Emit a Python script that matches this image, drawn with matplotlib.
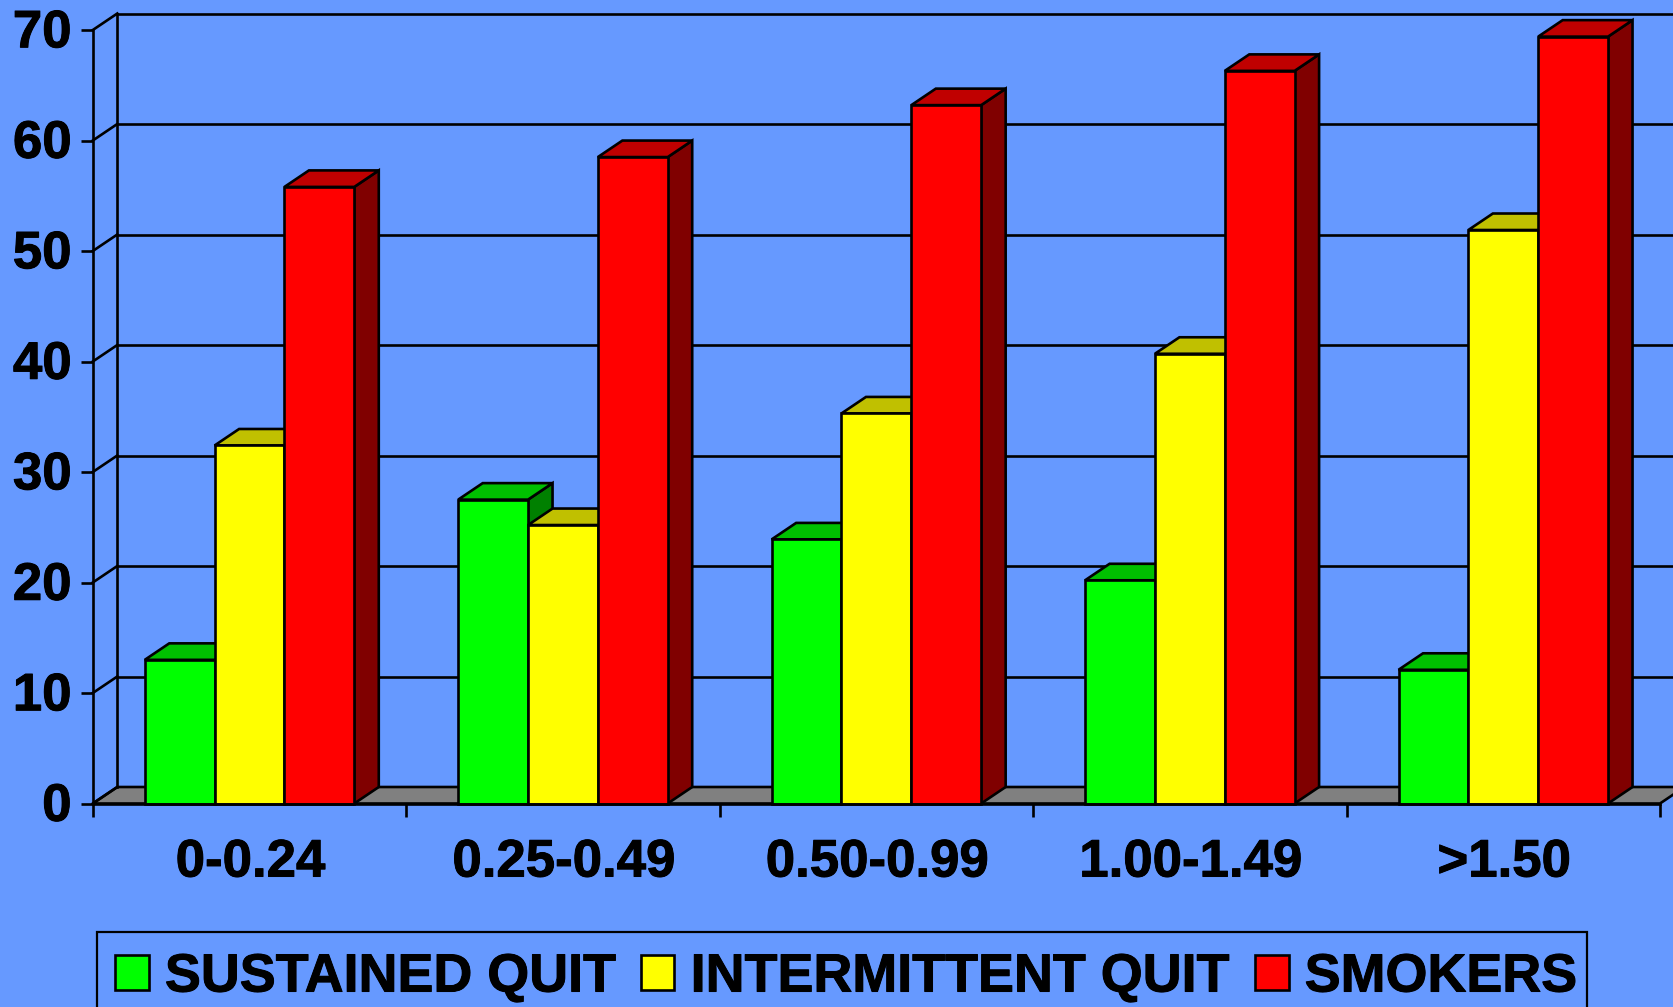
import matplotlib
matplotlib.use("Agg")
import matplotlib.pyplot as plt
import matplotlib.patheffects as pe
from matplotlib.patches import Polygon, Patch, Rectangle
from matplotlib.transforms import ScaledTranslation

plt.rcParams['font.family'] = ['Liberation Sans', 'DejaVu Sans']

categories = ['0-0.24', '0.25-0.49', '0.50-0.99', '1.00-1.49', '>1.50']
sustained = [13.0, 27.5, 23.9, 20.2, 12.1]
intermittent = [32.4, 25.2, 35.3, 40.7, 51.9]
smokers = [55.8, 58.5, 63.2, 66.3, 69.4]
series_names = ['SUSTAINED QUIT', 'INTERMITTENT QUIT', 'SMOKERS']
yticks = [0, 10, 20, 30, 40, 50, 60, 70]

BG = '#6699FF'
FRONT = ['#00FF00', '#FFFF00', '#FF0000']
TOP = ['#00C000', '#C0C000', '#C00000']
SIDE = ['#008000', '#808000', '#800000']
FLOOR = '#808080'
W, H = 1673, 1007
LEFT, RIGHT, Y0, Y70 = 92.8, 1660, 803.5, 30
LW = 1.9
FS = 38
LEG_FS = 38.8
HEAVY = [pe.withStroke(linewidth=0.7, foreground='black')]

fig = plt.figure(figsize=(W / 100, H / 100), dpi=100, facecolor=BG)
ax = fig.add_axes([LEFT / W, (H - Y0) / H, (RIGHT - LEFT) / W, (Y0 - Y70) / H])
ax.set_facecolor('none')
n = len(categories)
ax.set_xlim(0, n)
ax.set_ylim(0, 70)

ddx = 24.5 * n / (RIGHT - LEFT)
ddy = 16.5 * 70 / (Y0 - Y70)
xmax_wall = n + 2 * ddx

# floor
ax.add_patch(Polygon([(0, 0), (n, 0), (n + ddx, ddy), (ddx, ddy)], closed=True, fc=FLOOR, ec='black',
                     lw=LW, clip_on=False, zorder=1))
# back wall and gridlines
for t in yticks:
    ax.plot([0, ddx], [t, t + ddy], color='black', lw=LW, clip_on=False, zorder=1.1)
    if t > 0:
        ax.plot([ddx, xmax_wall], [t + ddy, t + ddy], color='black', lw=LW, clip_on=False, zorder=1.1)
ax.plot([ddx, ddx], [ddy, 70 + ddy], color='black', lw=LW, clip_on=False, zorder=1.1)

# bars
bw = 0.2228
z = 3
for i in range(n):
    for s, vals in enumerate([sustained, intermittent, smokers]):
        x0 = i + 0.5 + (s - 1.5) * bw
        x1 = x0 + bw
        v = vals[i]
        ax.add_patch(Polygon([(x1, 0), (x1 + ddx, ddy), (x1 + ddx, v + ddy), (x1, v)], closed=True,
                             fc=SIDE[s], ec='black', lw=LW, clip_on=False, zorder=z))
        ax.add_patch(Polygon([(x0, v), (x1, v), (x1 + ddx, v + ddy), (x0 + ddx, v + ddy)], closed=True,
                             fc=TOP[s], ec='black', lw=LW, clip_on=False, zorder=z + 0.1))
        ax.bar(x0, v, width=bw, align='edge', color=FRONT[s], edgecolor='black', linewidth=LW,
               clip_on=False, zorder=z + 0.2)
        z += 1

# axes
for name in ['top', 'right']:
    ax.spines[name].set_visible(False)
for name in ['left', 'bottom']:
    ax.spines[name].set_linewidth(LW)
    ax.spines[name].set_zorder(z + 1)

ax.set_yticks(yticks)
ax.set_yticklabels([str(t) for t in yticks], fontsize=FS, fontweight='bold')
ax.tick_params(axis='y', length=9, width=LW, pad=7)
ax.set_xticks(range(n + 1))
ax.set_xticklabels([''] * (n + 1))
ax.set_xticks([i + 0.5 for i in range(n)], minor=True)
ax.set_xticklabels(categories, minor=True, fontsize=FS, fontweight='bold')
ax.tick_params(axis='x', which='major', length=9, width=LW)
ax.tick_params(axis='x', which='minor', length=0, pad=24.5)

fig.canvas.draw()
shift_y = ScaledTranslation(1 / 100, 2.2 / 100, fig.dpi_scale_trans)
shift_x = ScaledTranslation(1 / 100, 0, fig.dpi_scale_trans)
for lab in ax.get_yticklabels():
    lab.set_transform(lab.get_transform() + shift_y)
    lab.set_path_effects(HEAVY)
for lab in ax.get_xticklabels(minor=True):
    lab.set_transform(lab.get_transform() + shift_x)
    lab.set_path_effects(HEAVY)

# legend frame runs past the lower edge of the picture
fig.add_artist(Rectangle((97 / W, -0.05), (1587 - 97) / W, 0.05 + 1 - 932.5 / H, transform=fig.transFigure,
                         fc='none', ec='black', lw=1.6))
handles = [Patch(facecolor=c, edgecolor='black', linewidth=LW) for c in FRONT]
leg = fig.legend(handles, series_names, ncols=3, loc='upper left',
                 bbox_to_anchor=(97 / W, 1 - 934.5 / H), bbox_transform=fig.transFigure, borderaxespad=0,
                 prop={'family': ['Liberation Sans'], 'weight': 'bold', 'size': LEG_FS},
                 frameon=False,
                 handlelength=0.625, handleheight=0.625, handletextpad=0.3, columnspacing=0.46,
                 borderpad=0.335, labelspacing=0)
for t in leg.get_texts():
    t.set_path_effects(HEAVY)

fig.savefig('out.png', dpi=100, facecolor=BG)
